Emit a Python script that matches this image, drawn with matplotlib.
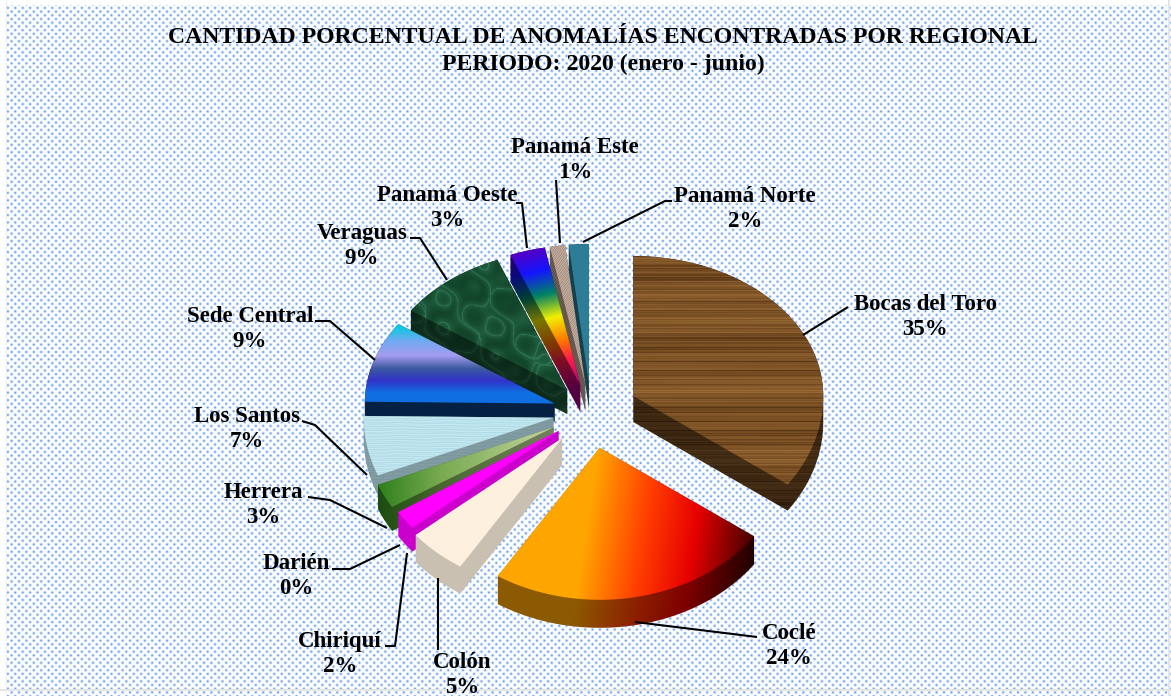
import numpy as np
import matplotlib
matplotlib.use("Agg")
import matplotlib.pyplot as plt
from matplotlib.path import Path
from matplotlib.patches import PathPatch

plt.rcParams['font.family'] = ['Liberation Serif', 'DejaVu Serif']

W, H = 1171, 696

# data
regions = ["Bocas del Toro", "Coclé", "Colón", "Chiriquí", "Darién", "Herrera",
           "Los Santos", "Sede Central", "Veraguas", "Panamá Oeste", "Panamá Este", "Panamá Norte"]
labels = [35, 24, 5, 2, 0, 3, 7, 9, 9, 3, 1, 2]
# unrounded shares as they look from the slice sizes
shares = [34.9, 24.1, 5.0, 2.0, 0.2, 2.6, 6.4, 9.4, 9.4, 3.0, 1.3, 1.7]

# layout of the pie
cx, cy = 591, 412
rx, ry_up, ry_down = 190, 140, 152
explode = [0.25, 0.24, 0.23, 0.21, 0.2, 0.22, 0.2, 0.2, 0.2, 0.2, 0.2, 0.2]
depth = [26, 28, 27, 24, 24, 24, 20, 18, 24, 27, 27, 25]

# leader lines and label centres, in pixels
leaders = [
    [(803, 335), (848, 307)],
    [(635, 622), (757, 637)],
    [(438, 578), (438, 650)],
    [(407, 553), (395, 646), (385, 646)],
    [(400, 545), (350, 569), (332, 569)],
    [(387, 528), (330, 500), (308, 497)],
    [(367, 475), (315, 425), (302, 421)],
    [(375, 360), (330, 321), (315, 321)],
    [(447, 280), (420, 238), (410, 238)],
    [(527, 248), (522, 203), (516, 203)],
    [(560, 243), (556, 180)],
    [(583, 242), (665, 201), (672, 201)],
]
label_pos = [(925, 317), (789, 646), (462, 675), (340, 654), (296, 576), (263, 505),
             (247, 429), (250, 329), (362, 246), (447, 208), (575, 160), (745, 209)]


def background():
    yy, xx = np.mgrid[0:H, 0:W].astype(float)
    s = 7.4
    d = np.zeros((H, W))
    for ox, oy in [(0, 0), (s / 2, s / 2)]:
        dx = (xx - ox + s / 2) % s - s / 2
        dy = (yy - oy + s / 2) % s - s / 2
        d = np.maximum(d, np.exp(-(dx ** 2 + dy ** 2) / 1.5))
    img = np.ones((H, W, 3))
    col = np.array([100, 155, 235]) / 255
    img = img * (1 - d[..., None]) + col * d[..., None]
    img[:5, :] = 1
    img[:, :6] = 1
    img[:, 6:7] = 0.93
    img[689:691, :] = 0.9
    img[:, 1168:1170] = 0.9
    return img


yy, xx = np.mgrid[0:H, 0:W].astype(float)


def ramp(v, stops):
    pos = [p for p, c in stops]
    return np.dstack([np.interp(v, pos, [c[i] for p, c in stops]) for i in range(3)]) / 255


def wood():
    n = (np.sin(yy * 1.37) + np.sin(yy * 2.71 + 1) + np.sin(yy * 0.53 + 2) + np.sin(yy * 4.19) * 0.7
         + np.sin(yy * 0.19 + xx * 0.004) * 0.8 + np.sin(yy * 0.083 + 1) * 0.8)
    return ramp(n, [(-4, (80, 48, 15)), (-1.5, (112, 72, 32)), (0, (125, 82, 38)), (4, (155, 108, 55))])


def cocle():
    return ramp(xx + 0.15 * (yy - 500), [(590, (255, 165, 0)), (650, (255, 60, 0)), (700, (230, 0, 0)),
                                        (740, (120, 0, 0)), (765, (50, 0, 0))])


def colon():
    return ramp(xx, [(0, (253, 240, 222)), (W, (253, 240, 222))])


def magenta():
    return ramp(xx, [(0, (255, 0, 255)), (W, (255, 0, 255))])


def herrera():
    return ramp(xx, [(380, (50, 130, 30)), (440, (120, 170, 80)), (560, (200, 215, 165))])


def santos():
    n = np.sin(yy * 1.9 + np.sin(xx * 0.13)) + np.sin(yy * 3.3 + xx * 0.05)
    return ramp(n, [(-2, (175, 218, 230)), (2, (200, 235, 243))])


def sede():
    return ramp(yy, [(325, (0, 205, 225)), (340, (110, 170, 240)), (355, (165, 155, 240)), (368, (60, 90, 160)),
                     (380, (50, 50, 200)), (392, (15, 110, 225)), (420, (15, 110, 225))])


def marble():
    warp = np.sin(yy * 0.13 + xx * 0.05) + np.sin(xx * 0.17 - yy * 0.09) * 0.7
    n = np.abs(np.sin(xx * 0.041 + yy * 0.027 + warp))
    n2 = np.abs(np.sin(xx * 0.073 - yy * 0.047 + warp * 0.8))
    return ramp(np.minimum(n, n2), [(0, (50, 120, 85)), (0.1, (32, 92, 62)), (0.5, (24, 80, 50)), (1, (18, 68, 42))])


def rainbow():
    return ramp(yy + 0.25 * (xx - 540), [(245, (90, 0, 190)), (270, (20, 20, 255)), (295, (0, 130, 100)),
                                        (320, (240, 240, 0)), (345, (255, 120, 0)), (365, (255, 30, 70)),
                                        (395, (170, 0, 130))])


def speckle():
    n = np.sin(xx * 2.3 + yy * 1.7) + np.sin(xx * 3.1 - yy * 2.9)
    return ramp(n, [(-2, (160, 135, 120)), (2, (205, 185, 170))])


def teal():
    return ramp(xx, [(0, (45, 125, 150)), (W, (45, 125, 150))])


textures = [wood, cocle, colon, magenta, magenta, herrera, santos, sede, marble, rainbow, speckle, teal]
side_dark = [0.5, 0.55, 0.8, 0.8, 0.8, 0.6, 0.68, 0.3, 0.55, 0.5, 0.55, 0.5]
# Darién rounds to nothing and is not drawn as a slice
draw_order = [10, 11, 9, 8, 7, 6, 5, 3, 2, 0, 1]


def hull(pts):
    pts = sorted(set(map(tuple, pts)))

    def half(ps):
        out = []
        for p in ps:
            while len(out) > 1 and ((out[-1][0] - out[-2][0]) * (p[1] - out[-2][1])
                                    - (out[-1][1] - out[-2][1]) * (p[0] - out[-2][0])) <= 0:
                out.pop()
            out.append(p)
        return out[:-1]
    return half(pts) + half(pts[::-1])


fig = plt.figure(figsize=(W / 100, H / 100), dpi=100)
ax = fig.add_axes([0, 0, 1, 1])
ax.set_xlim(0, W)
ax.set_ylim(H, 0)
ax.axis('off')
ax.imshow(background(), extent=(0, W, H, 0), aspect='auto', zorder=0)

# wedge angles run clockwise from the top
edges = np.concatenate([[0], np.cumsum(shares)]) / sum(shares) * 2 * np.pi
z = 1
for i in draw_order:
    a0, a1 = edges[i], edges[i + 1]
    mid = (a0 + a1) / 2
    ox = cx + explode[i] * rx * np.sin(mid)
    oy = cy - explode[i] * (ry_up if np.cos(mid) > 0 else ry_down) * np.cos(mid)
    t = np.linspace(a0, a1, 60)
    # the front of the pie is a bit larger, as in a perspective view
    ry = np.where(np.cos(t) > 0, ry_up, ry_down)
    top = np.vstack([[ox, oy], np.column_stack([ox + rx * np.sin(t), oy - ry * np.cos(t)])])
    low = top + [0, depth[i]]
    tex = textures[i]()
    side = hull(np.vstack([top, low]).round(2))
    for poly, shade in [(side, side_dark[i]), (top, 1)]:
        im = ax.imshow(tex * shade, extent=(0, W, H, 0), aspect='auto', zorder=z)
        patch = PathPatch(Path(np.vstack([poly, poly[0]]), closed=True), transform=ax.transData,
                          facecolor='none', edgecolor='none')
        ax.add_patch(patch)
        im.set_clip_path(patch)
        z += 1

ax.set_xlim(0, W)
ax.set_ylim(H, 0)

for line, (lx, ly), name, share in zip(leaders, label_pos, regions, labels):
    ax.plot(*zip(*line), color='black', lw=1.5, zorder=z, solid_capstyle='butt')
    ax.text(lx, ly, f"{name}\n{share}%", ha='center', va='center', fontsize=16.5, fontweight='bold',
            linespacing=1.26, zorder=z + 1)

ax.text(603, 51, "CANTIDAD PORCENTUAL DE ANOMALÍAS ENCONTRADAS POR REGIONAL\nPERIODO: 2020 (enero - junio)",
        ha='center', va='center', fontsize=17.15, fontweight='bold', linespacing=1.3, zorder=z + 1)

fig.savefig("out.png", dpi=100)
